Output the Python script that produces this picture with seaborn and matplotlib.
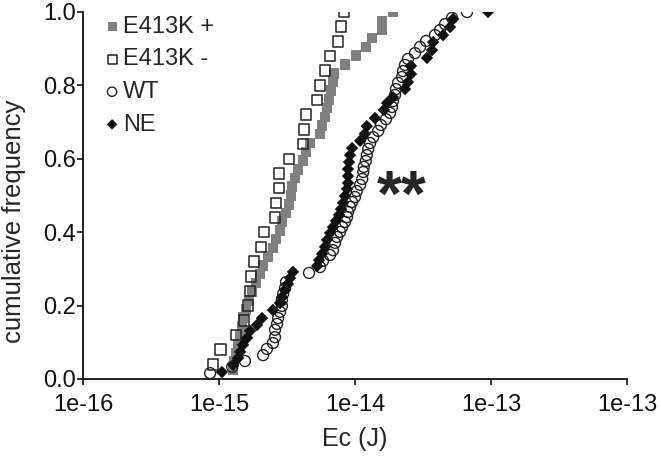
import matplotlib
matplotlib.use("Agg")
import matplotlib.pyplot as plt
import seaborn as sns
import pandas as pd

# Ec (J) and cumulative frequency, per group
e413k_plus_ec = [1.90e-14, 1.58e-14, 1.58e-14, 1.33e-14, 1.20e-14, 1.02e-14, 8.44e-15,
                 7.01e-15, 6.89e-15, 6.66e-15, 6.44e-15, 6.22e-15, 6.02e-15, 5.72e-15,
                 5.53e-15, 4.67e-15, 4.36e-15, 4.15e-15, 3.81e-15, 3.62e-15, 3.44e-15,
                 3.38e-15, 3.27e-15, 3.11e-15, 2.90e-15, 2.81e-15, 2.62e-15, 2.49e-15,
                 2.29e-15, 2.11e-15, 2.00e-15, 1.87e-15, 1.75e-15, 1.66e-15, 1.58e-15,
                 1.50e-15, 1.48e-15, 1.43e-15, 1.38e-15, 1.33e-15, 1.29e-15, 1.27e-15]
e413k_plus_cf = [1.000, 0.976, 0.952, 0.929, 0.905, 0.881, 0.857, 0.833, 0.810, 0.786,
                 0.762, 0.738, 0.714, 0.690, 0.667, 0.643, 0.619, 0.595, 0.571, 0.548,
                 0.524, 0.500, 0.476, 0.452, 0.429, 0.405, 0.381, 0.357, 0.333, 0.310,
                 0.286, 0.262, 0.238, 0.214, 0.190, 0.167, 0.143, 0.119, 0.095, 0.071,
                 0.048, 0.024]

e413k_minus_ec = [8.30e-15, 7.89e-15, 7.50e-15, 6.55e-15, 6.02e-15, 5.53e-15, 5.26e-15,
                  4.36e-15, 4.22e-15, 4.15e-15, 3.27e-15, 2.76e-15, 2.76e-15, 2.62e-15,
                  2.58e-15, 2.14e-15, 2.04e-15, 1.81e-15, 1.72e-15, 1.69e-15, 1.63e-15,
                  1.53e-15, 1.33e-15, 1.03e-15, 9.0e-16]
e413k_minus_cf = [1.00, 0.96, 0.92, 0.88, 0.84, 0.80, 0.76, 0.72, 0.68, 0.64, 0.60, 0.56,
                  0.52, 0.48, 0.44, 0.40, 0.36, 0.32, 0.28, 0.24, 0.20, 0.16, 0.12, 0.08,
                  0.04]

wt_ec = [8.6e-16, 1.25e-15, 1.55e-15, 2.11e-15, 2.25e-15, 2.49e-15, 2.58e-15, 2.58e-15,
         2.67e-15, 2.72e-15, 2.81e-15, 2.90e-15, 2.90e-15, 2.96e-15, 3.06e-15, 3.11e-15,
         4.59e-15, 5.53e-15, 5.82e-15, 6.55e-15, 6.89e-15, 7.13e-15, 7.38e-15, 7.76e-15,
         8.03e-15, 8.44e-15, 8.73e-15, 8.88e-15, 9.19e-15, 9.51e-15, 1.00e-14, 1.03e-14,
         1.09e-14, 1.13e-14, 1.15e-14, 1.16e-14, 1.20e-14, 1.22e-14, 1.25e-14, 1.29e-14,
         1.36e-14, 1.48e-14, 1.55e-14, 1.69e-14, 1.81e-14, 1.87e-14, 1.90e-14, 1.97e-14,
         2.00e-14, 2.07e-14, 2.22e-14, 2.25e-14, 2.33e-14, 2.45e-14, 2.76e-14, 3.01e-14,
         3.33e-14, 3.87e-14, 4.22e-14, 4.59e-14, 5.17e-14, 6.66e-14]
wt_cf = [0.016, 0.033, 0.049, 0.065, 0.082, 0.098, 0.114, 0.134, 0.150, 0.166, 0.183,
         0.199, 0.215, 0.232, 0.248, 0.264, 0.289, 0.305, 0.322, 0.338, 0.351, 0.371,
         0.387, 0.401, 0.414, 0.428, 0.441, 0.455, 0.469, 0.482, 0.496, 0.512, 0.529,
         0.545, 0.564, 0.578, 0.594, 0.610, 0.627, 0.643, 0.659, 0.676, 0.692, 0.708,
         0.725, 0.741, 0.757, 0.774, 0.790, 0.807, 0.823, 0.839, 0.856, 0.872, 0.888,
         0.905, 0.921, 0.937, 0.951, 0.967, 0.984, 1.000]

ne_ec = [1.05e-15, 1.27e-15, 1.38e-15, 1.43e-15, 1.50e-15, 1.61e-15, 1.69e-15, 1.90e-15,
         2.07e-15, 2.49e-15, 2.81e-15, 2.90e-15, 3.06e-15, 3.21e-15, 3.33e-15, 3.50e-15,
         5.26e-15, 5.44e-15, 5.72e-15, 6.02e-15, 6.22e-15, 6.55e-15, 6.89e-15, 7.25e-15,
         7.63e-15, 7.89e-15, 8.16e-15, 8.44e-15, 8.73e-15, 8.88e-15, 8.88e-15, 8.88e-15,
         9.03e-15, 9.19e-15, 9.51e-15, 1.09e-14, 1.18e-14, 1.22e-14, 1.40e-14, 1.63e-14,
         1.72e-14, 1.90e-14, 2.33e-14, 2.45e-14, 2.58e-14, 2.58e-14, 3.38e-14, 3.68e-14,
         3.75e-14, 4.44e-14, 5.00e-14, 5.26e-14, 9.51e-14]
ne_cf = [0.019, 0.038, 0.057, 0.074, 0.093, 0.112, 0.131, 0.147, 0.166, 0.188, 0.207,
         0.223, 0.243, 0.259, 0.275, 0.292, 0.308, 0.324, 0.341, 0.360, 0.379, 0.398,
         0.414, 0.431, 0.447, 0.463, 0.480, 0.499, 0.518, 0.534, 0.553, 0.572, 0.591,
         0.610, 0.629, 0.649, 0.668, 0.689, 0.711, 0.733, 0.752, 0.768, 0.790, 0.809,
         0.831, 0.853, 0.875, 0.896, 0.918, 0.937, 0.959, 0.981, 1.000]

x_ticks = [1e-16, 1e-15, 1e-14, 1e-13, 1e-12]
x_tick_labels = ["1e-16", "1e-15", "1e-14", "1e-13", "1e-13"]
y_ticks = [0.0, 0.2, 0.4, 0.6, 0.8, 1.0]

sns.set_style("ticks")
plt.rcParams['font.family'] = ['Liberation Sans', 'DejaVu Sans']

fig = plt.figure(figsize=(6.61, 4.58), dpi=100)
ax = fig.add_axes([0.1256, 0.1725, 0.8230, 0.8013])

def df_of(ec, cf):
    return pd.DataFrame({"Ec": ec, "cf": cf})

sns.scatterplot(data=df_of(e413k_plus_ec, e413k_plus_cf), x="Ec", y="cf", ax=ax,
                marker="s", s=58, color="#808080", edgecolor="none", linewidth=0,
                label="E413K +")
sns.scatterplot(data=df_of(e413k_minus_ec, e413k_minus_cf), x="Ec", y="cf", ax=ax,
                marker="s", s=58, facecolor="none", edgecolor="#222222", linewidth=1.1,
                label="E413K -")
sns.scatterplot(data=df_of(wt_ec, wt_cf), x="Ec", y="cf", ax=ax,
                marker="o", s=62, facecolor="none", edgecolor="#222222", linewidth=1.0,
                label="WT")
sns.scatterplot(data=df_of(ne_ec, ne_cf), x="Ec", y="cf", ax=ax,
                marker="D", s=40, color="#111111", edgecolor="none", linewidth=0,
                label="NE")

ax.set_xscale("log")
ax.set_xlim(1e-16, 1e-12)
ax.set_ylim(0, 1.0)
ax.set_xticks(x_ticks)
ax.set_xticklabels(x_tick_labels)
ax.minorticks_off()
ax.set_yticks(y_ticks)
ax.set_yticklabels(["%.1f" % v for v in y_ticks])
ax.tick_params(axis="both", labelsize=17, length=4, width=1.2, colors="#111111")
ax.tick_params(axis="x", pad=7)
ax.tick_params(axis="y", pad=1)
for side in ["left", "bottom"]:
    ax.spines[side].set_linewidth(1.3)
    ax.spines[side].set_color("#111111")
sns.despine(ax=ax)

ax.set_xlabel("Ec (J)", fontsize=18, labelpad=8)
ax.set_ylabel("cumulative frequency", fontsize=18.5)
ax.yaxis.set_label_coords(-0.105, 0.43)

ax.text(2.2e-14, 0.49, "**", fontsize=46, fontweight="bold", ha="center", va="center")

leg = ax.legend(loc="upper left", bbox_to_anchor=(0.036, 0.99), frameon=False,
                fontsize=17, handlelength=0.8, handletextpad=0.05, labelspacing=0.45,
                markerscale=0.85, borderpad=0.0, borderaxespad=0.0)

fig.savefig("out.png", dpi=100)
